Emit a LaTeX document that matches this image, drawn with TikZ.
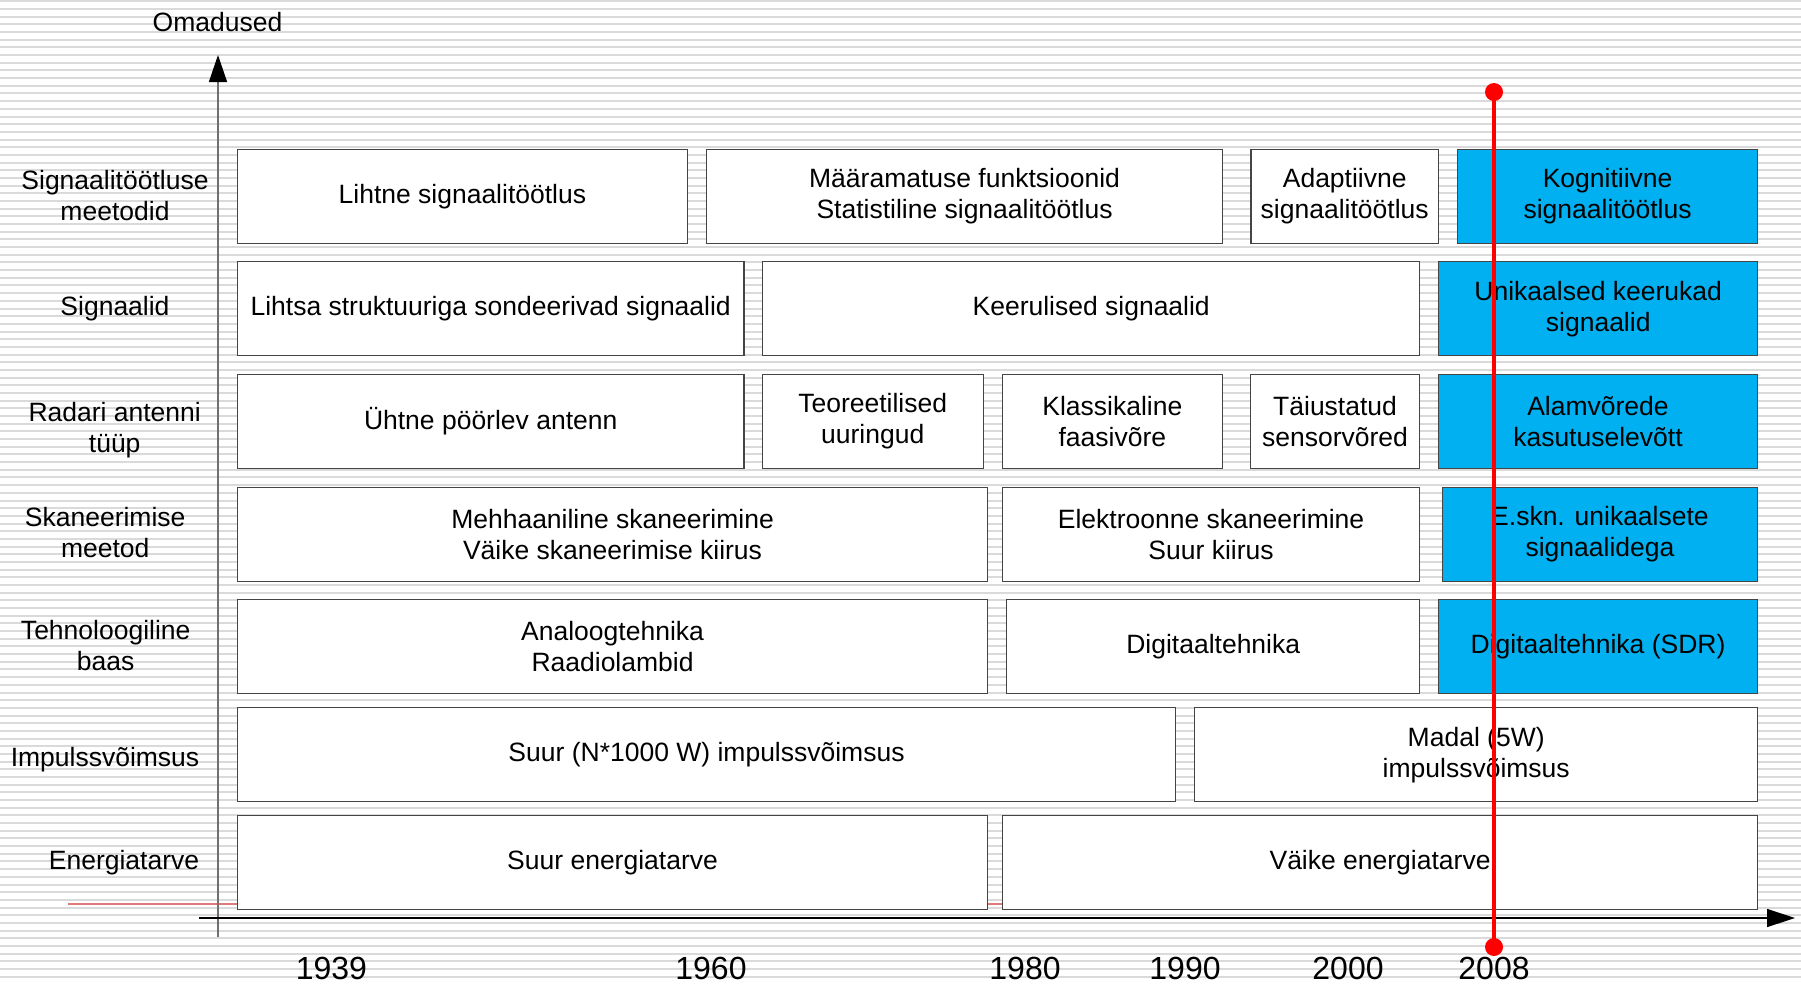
\documentclass[tikz,border=0pt]{standalone}
\usepackage{fontspec}
\setmainfont{Liberation Sans}
\usetikzlibrary{arrows.meta}
\definecolor{skyblue}{HTML}{00B0F0}
\definecolor{stripegray}{HTML}{DADADA}
\definecolor{framegray}{HTML}{454545}
\definecolor{axisgray}{HTML}{707070}
\definecolor{pinkline}{HTML}{E07A7A}

\begin{document}
\begin{tikzpicture}[
        x=1pt, y=-1pt,
        every node/.style={font=\fontsize{26.5}{31}\selectfont},
        box/.style={draw=framegray, line width=1.4pt, fill=white, minimum height=94pt, anchor=north west, align=center, inner sep=2pt},
        hot/.style={box, fill=skyblue},
        rowlabel/.style={align=center, inner sep=0pt},
        year/.style={font=\fontsize{32}{36}\selectfont, inner sep=0pt},
        stripe/.style={stripegray, line width=2pt},
        dot/.style={circle, fill=red, minimum size=18pt, inner sep=0pt}
    ]
    \useasboundingbox (0,0) rectangle (1801,983);
    \fill[white] (0,0) rectangle (1801,983);
    \foreach \i in {0,...,127}
        \draw[stripe] (0,1.3+7.68*\i) -- (1801,1.3+7.68*\i);

    % axes
    \coordinate (pinkstart) at (68,904);
    \coordinate (pinkend) at (1001.7,904);
    \draw[pinkline, line width=1.5pt] (pinkstart) -- (pinkend);
    \coordinate (yfoot) at (218,937);
    \coordinate (ytip) at (218,55);
    \coordinate (xfoot) at (199,918);
    \coordinate (xtip) at (1795,918);
    \draw[axisgray, line width=1.5pt, -{Triangle[length=27pt, width=18pt, color=black, fill=black]}] (yfoot) -- (ytip);
    \draw[black, line width=1.3pt, -{Triangle[length=28pt, width=18pt, color=black, fill=black]}] (xfoot) -- (xtip);
    \node (omadused) at (217.5,22) {Omadused};

    % row labels
    \node[rowlabel] (lblsignaalitootlus) at (115,196) {Signaalitöötluse\\meetodid};
    \node[rowlabel] (lblsignaalid) at (115,309) {Signaalid};
    \node[rowlabel] (lblantenn) at (114.7,430) {Radari antenni\\tüüp};
    \node[rowlabel] (lblskaneerimine) at (105.2,533) {Skaneerimise\\meetod};
    \node[rowlabel] (lbltehnoloogia) at (105.7,646) {Tehnoloogiline\\baas};
    \node[rowlabel] (lblimpulss) at (105,760) {Impulssvõimsus};
    \node[rowlabel] (lblenergia) at (124,863) {Energiatarve};

    % boxes
    \node[box, minimum width=450pt] (lihtne) at (236.7,148.5) {Lihtne signaalitöötlus};
    \node[box, minimum width=515.7pt] (maaramatus) at (706,148.5) {Määramatuse funktsioonid\\Statistiline signaalitöötlus};
    \node[box, minimum width=187.4pt] (adaptiivne) at (1250.3,148.5) {Adaptiivne\\signaalitöötlus};
    \node[hot, minimum width=300.3pt] (kognitiivne) at (1456.7,148.5) {Kognitiivne\\signaalitöötlus};

    \node[box, minimum width=506.6pt] (lihtsasignaal) at (236.7,261) {Lihtsa struktuuriga sondeerivad signaalid};
    \node[box, minimum width=657pt] (keerulised) at (762,261) {Keerulised signaalid};
    \node[hot, minimum width=319pt] (unikaalsed) at (1438,261) {Unikaalsed keerukad\\signaalid};

    \node[box, minimum width=506.6pt] (yhtne) at (236.7,373.5) {Ühtne pöörlev antenn};
    \node[box, minimum width=221pt] (teoreetilised) at (761.5,373.5) {Teoreetilised\\uuringud};
    \node[box, minimum width=219.8pt] (klassikaline) at (1001.7,373.5) {Klassikaline\\faasivõre};
    \node[box, minimum width=169.3pt] (taiustatud) at (1249.7,373.5) {Täiustatud\\sensorvõred};
    \node[hot, minimum width=319.5pt] (alamvorede) at (1437.5,373.5) {Alamvõrede\\kasutuselevõtt};

    \node[box, minimum width=750.3pt] (mehhaaniline) at (236.7,486.5) {Mehhaaniline skaneerimine\\Väike skaneerimise kiirus};
    \node[box, minimum width=417.3pt] (elektroonne) at (1001.7,486.5) {Elektroonne skaneerimine\\Suur kiirus};
    \node[hot, minimum width=315.5pt] (eskn) at (1441.5,486.5) {E.skn. unikaalsete\\signaalidega};

    \node[box, minimum width=750.3pt] (analoog) at (236.7,599) {Analoogtehnika\\Raadiolambid};
    \node[box, minimum width=413pt] (digitaal) at (1006,599) {Digitaaltehnika};
    \node[hot, minimum width=319.3pt] (sdr) at (1437.7,599) {Digitaaltehnika (SDR)};

    \node[box, minimum width=938.3pt] (suurimpulss) at (236.7,707) {Suur (N*1000 W) impulssvõimsus};
    \node[box, minimum width=563pt] (madalimpulss) at (1194,707) {Madal (5W)\\impulssvõimsus};

    \node[box, minimum width=750.3pt] (suurenergia) at (236.7,815) {Suur energiatarve};
    \node[box, minimum width=755.3pt] (vaikeenergia) at (1001.7,815) {Väike energiatarve};

    % years
    \node[year] (y1939) at (331.4,968) {1939};
    \node[year] (y1960) at (711,968) {1960};
    \node[year] (y1980) at (1025,968) {1980};
    \node[year] (y1990) at (1185,968) {1990};
    \node[year] (y2000) at (1348,968) {2000};
    \node[year] (y2008) at (1494,968) {2008};

    % current moment
    \node[dot] (nowtop) at (1494,92) {};
    \node[dot] (nowbottom) at (1494,947) {};
    \draw[red, line width=4pt] (nowtop.center) -- (nowbottom.center);
\end{tikzpicture}
\end{document}
